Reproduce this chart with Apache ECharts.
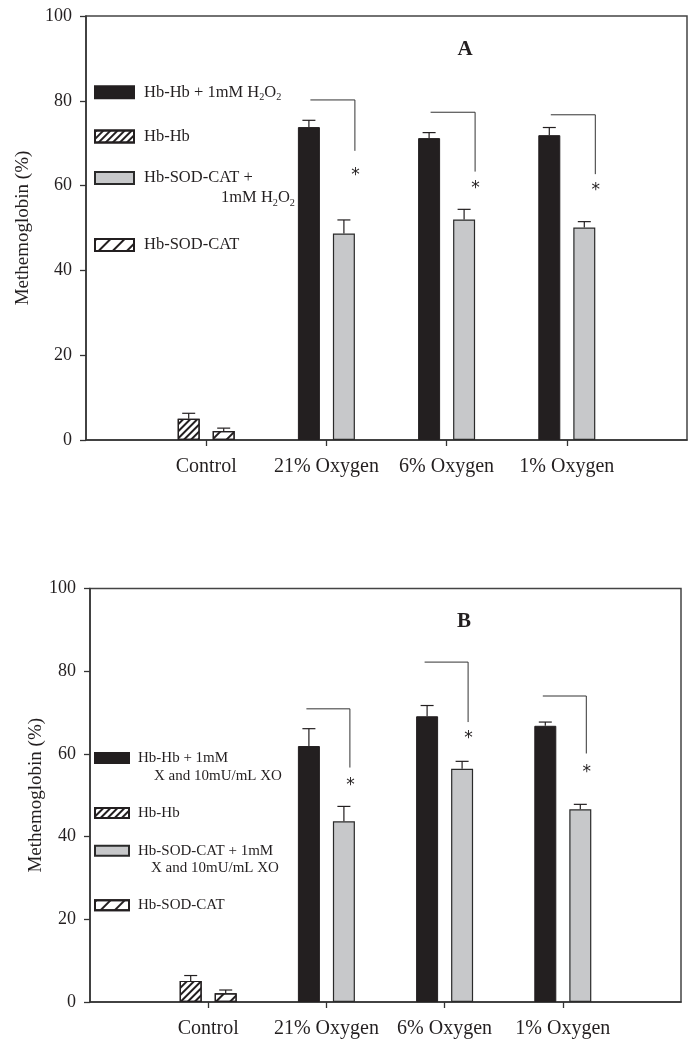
<!DOCTYPE html>
<html><head><meta charset="utf-8">
<script src="https://cdn.jsdelivr.net/npm/echarts@6/dist/echarts.min.js"></script>
<style>html,body{margin:0;padding:0;background:#fff}#c{width:697px;height:1049px}</style>
</head><body><div id="c"></div>
<script>
// ---------- data ----------
const categories = ['Control', '21% Oxygen', '6% Oxygen', '1% Oxygen'];
const yTicks = { min: 0, max: 100, step: 20 };
const yTitle = 'Methemoglobin (%)';

// Panel A (H2O2)
const A_hbhbH2O2     = [null, 73.8, 71.2, 71.9];
const A_hbhbH2O2Err  = [null, 1.6, 1.3, 1.8];
const A_hbhb         = [5.0, null, null, null];
const A_hbhbErr      = [1.3, null, null, null];
const A_sodH2O2      = [null, 48.7, 52.0, 50.1];
const A_sodH2O2Err   = [null, 3.2, 2.4, 1.4];
const A_sod          = [2.1, null, null, null];
const A_sodErr       = [0.7, null, null, null];
const A_bracketTop    = [null, 80.2, 77.3, 76.7];
const A_bracketBottom = [null, 68.2, 63.3, 62.7];
const A_starLevel     = [null, 63.5, 60.5, 59.9];

// Panel B (X / XO)
const B_hbhbXO       = [null, 61.9, 69.1, 66.8];
const B_hbhbXOErr    = [null, 4.2, 2.6, 0.9];
const B_hbhb         = [5.1, null, null, null];
const B_hbhbErr      = [1.3, null, null, null];
const B_sodXO        = [null, 43.7, 56.4, 46.6];
const B_sodXOErr     = [null, 3.6, 1.8, 1.2];
const B_sod          = [2.1, null, null, null];
const B_sodErr       = [0.8, null, null, null];
const B_bracketTop    = [null, 70.9, 82.2, 74.0];
const B_bracketBottom = [null, 56.7, 67.7, 60.1];
const B_starLevel     = [null, 53.6, 64.9, 56.8];

// ---------- style ----------
const FONT = '"Liberation Serif", "Times New Roman", serif';
const INK = '#231f20';
const BW = 22, GAP = 13, OFF = (BW + GAP) / 2;
const denseDecal = { symbol: 'rect', symbolSize: 1, color: INK, dashArrayX: [1, 0], dashArrayY: [1.3, 2.6], rotation: -Math.PI / 4 };
const sparseDecal = { symbol: 'rect', symbolSize: 1, color: INK, dashArrayX: [1, 0], dashArrayY: [1.3, 7.5], rotation: -Math.PI / 4 };

const N_BLACK_A = 'Hb-Hb + 1mM H2O2';
const N_GRAY_A = 'Hb-SOD-CAT + 1mM H2O2';
const N_BLACK_B = 'Hb-Hb + 1mM X and 10mU/mL XO';
const N_GRAY_B = 'Hb-SOD-CAT + 1mM X and 10mU/mL XO';
const N_HB = 'Hb-Hb';
const N_SOD = 'Hb-SOD-CAT';

const axisData = [''].concat(categories, ['']);
const pad = a => [null].concat(a, [null]);

function errData(vals, errs, side) {
  const out = [];
  vals.forEach((v, i) => { if (v != null) out.push([i + 1, v, errs[i], side]); });
  return out;
}
function bracketData(top, bot, star) {
  const out = [];
  top.forEach((t, i) => { if (t != null) out.push([i + 1, t, bot[i], star[i]]); });
  return out;
}

function panelSeries(gi, d, br) {
  const base = { type: 'bar', xAxisIndex: gi, yAxisIndex: gi, barWidth: BW, barGap: (GAP / BW * 100) + '%', z: 2 };
  const s = [
    Object.assign({}, base, { name: d.nBlack, stack: 'L' + gi, data: pad(d.black),
      itemStyle: { color: INK, borderColor: INK, borderWidth: 1 } }),
    Object.assign({}, base, { name: N_HB, stack: 'L' + gi, data: pad(d.hb),
      itemStyle: { color: '#fff', borderColor: INK, borderWidth: 1.2, decal: denseDecal } }),
    Object.assign({}, base, { name: d.nGray, stack: 'R' + gi, data: pad(d.gray),
      itemStyle: { color: '#c7c8ca', borderColor: '#2a2a2a', borderWidth: 1.2 } }),
    Object.assign({}, base, { name: N_SOD, stack: 'R' + gi, data: pad(d.sod),
      itemStyle: { color: '#fff', borderColor: INK, borderWidth: 1.2, decal: sparseDecal } })
  ];
  const errs = [].concat(
    errData(d.black, d.blackErr, -1), errData(d.hb, d.hbErr, -1),
    errData(d.gray, d.grayErr, 1), errData(d.sod, d.sodErr, 1));
  s.push({
    type: 'custom', xAxisIndex: gi, yAxisIndex: gi, z: 3, silent: true,
    data: errs,
    renderItem: (params, api) => {
      const c = api.coord([api.value(0), api.value(1)]);
      const t = api.coord([api.value(0), api.value(1) + api.value(2)]);
      const x = c[0] + api.value(3) * OFF;
      const st = { stroke: INK, lineWidth: 1.2 };
      return { type: 'group', children: [
        { type: 'line', shape: { x1: x, y1: c[1], x2: x, y2: t[1] }, style: st },
        { type: 'line', shape: { x1: x - 6.5, y1: t[1], x2: x + 6.5, y2: t[1] }, style: st }
      ] };
    }
  });
  s.push({
    type: 'custom', xAxisIndex: gi, yAxisIndex: gi, z: 3, silent: true,
    data: bracketData(d.bTop, d.bBot, d.star),
    renderItem: (params, api) => {
      const top = api.coord([api.value(0), api.value(1)]);
      const bot = api.coord([api.value(0), api.value(2)]);
      const st = api.coord([api.value(0), api.value(3)]);
      const xl = top[0] + br.l, xr = top[0] + br.r;
      return { type: 'group', children: [
        { type: 'polyline', shape: { points: [[xl, top[1]], [xr, top[1]], [xr, bot[1]]] },
          style: { stroke: '#333', lineWidth: 1, fill: null } },
        { type: 'text', x: xr + 0.5, y: st[1] + 5,
          style: { text: '*', fontFamily: '"DejaVu Sans", sans-serif', fontSize: 17, fill: INK, align: 'center', verticalAlign: 'middle' } }
      ] };
    }
  });
  return s;
}

function axes(gi, nameGap) {
  const line = { color: '#333', width: 1.5 };
  return {
    x: { type: 'category', gridIndex: gi, data: axisData, boundaryGap: false,
      axisLine: { lineStyle: line },
      axisTick: { length: 6, interval: (i, v) => v !== '', lineStyle: { color: '#333', width: 1.3 } },
      axisLabel: { interval: 0, fontFamily: FONT, fontSize: 20, color: INK, margin: 17 },
      splitLine: { show: false } },
    y: { type: 'value', gridIndex: gi, min: yTicks.min, max: yTicks.max, interval: yTicks.step,
      name: yTitle, nameLocation: 'middle', nameGap: nameGap, nameMoveOverlap: false,
      nameTextStyle: { fontFamily: FONT, fontSize: 19, color: INK },
      axisLine: { show: true, lineStyle: line },
      axisTick: { show: true, length: 6, lineStyle: { color: '#333', width: 1.3 } },
      axisLabel: { fontFamily: FONT, fontSize: 18, color: INK, margin: 14 },
      splitLine: { show: false } }
  };
}

function legendItem(name, lines, cfg, cy) {
  const L = cfg.L;
  const two = lines.length > 1;
  const fmt = () => lines.map((ln, k) => (k > 0 ? '{ind|}' : '') + ln).join('\n');
  return {
    data: [name], left: cfg.left, top: cy - (two ? 1.5 * L : 0.5 * L), orient: 'vertical',
    padding: 0, icon: 'rect', itemWidth: cfg.iw, itemHeight: cfg.ih, itemGap: 0,
    selectedMode: false, formatter: fmt,
    textStyle: { fontFamily: FONT, fontSize: cfg.fs, color: INK, lineHeight: L,
      padding: two ? [L, 0, 0, cfg.gapFix] : [0, 0, 0, cfg.gapFix],
      rich: {
        t: { fontFamily: FONT, fontSize: cfg.fs, color: INK, lineHeight: L },
        s: { fontFamily: FONT, fontSize: cfg.fs * 0.62, color: INK, lineHeight: L - 8, verticalAlign: 'bottom' },
        ind: { width: cfg.indent || 0, lineHeight: L }
      } }
  };
}

const dA = { nBlack: N_BLACK_A, nGray: N_GRAY_A,
  black: A_hbhbH2O2, blackErr: A_hbhbH2O2Err, hb: A_hbhb, hbErr: A_hbhbErr,
  gray: A_sodH2O2, grayErr: A_sodH2O2Err, sod: A_sod, sodErr: A_sodErr,
  bTop: A_bracketTop, bBot: A_bracketBottom, star: A_starLevel };
const dB = { nBlack: N_BLACK_B, nGray: N_GRAY_B,
  black: B_hbhbXO, blackErr: B_hbhbXOErr, hb: B_hbhb, hbErr: B_hbhbErr,
  gray: B_sodXO, grayErr: B_sodXOErr, sod: B_sod, sodErr: B_sodErr,
  bTop: B_bracketTop, bBot: B_bracketBottom, star: B_starLevel };

const axA = axes(0, 53), axB = axes(1, 44);
const cfgA = { left: 94, iw: 39, ih: 12, fs: 16.5, L: 20, gapFix: 5 };
const cfgB = { left: 94, iw: 34, ih: 10, fs: 15, L: 17.7, gapFix: 4 };

const H2O2 = '{t|1mM H}{s|2}{t|O}{s|2}';
const legends = [
  legendItem(N_BLACK_A, ['{t|Hb-Hb + }' + H2O2], cfgA, 92.3),
  legendItem(N_HB, ['{t|Hb-Hb}'], cfgA, 136.5),
  legendItem(N_GRAY_A, ['{t|Hb-SOD-CAT +}', H2O2], Object.assign({}, cfgA, { indent: 77 }), 178),
  legendItem(N_SOD, ['{t|Hb-SOD-CAT}'], cfgA, 245),
  legendItem(N_BLACK_B, ['{t|Hb-Hb + 1mM}', '{t|X and 10mU/mL XO}'], Object.assign({}, cfgB, { indent: 16 }), 758),
  legendItem(N_HB, ['{t|Hb-Hb}'], cfgB, 813),
  legendItem(N_GRAY_B, ['{t|Hb-SOD-CAT + 1mM}', '{t|X and 10mU/mL XO}'], Object.assign({}, cfgB, { indent: 13 }), 850.7),
  legendItem(N_SOD, ['{t|Hb-SOD-CAT}'], cfgB, 905.3)
];

const option = {
  animation: false,
  backgroundColor: '#fff',
  grid: [
    { left: 86, right: 10, top: 16, bottom: 609, show: true, borderColor: '#444', borderWidth: 1.5, backgroundColor: 'transparent' },
    { left: 90, right: 16, top: 588.5, bottom: 47, show: true, borderColor: '#444', borderWidth: 1.5, backgroundColor: 'transparent' }
  ],
  xAxis: [axA.x, axB.x],
  yAxis: [axA.y, axB.y],
  legend: legends,
  graphic: [
    { type: 'text', x: 465, y: 50, style: { text: 'A', fontFamily: FONT, fontWeight: 'bold', fontSize: 21, fill: INK, align: 'center', verticalAlign: 'middle' } },
    { type: 'text', x: 464, y: 622, style: { text: 'B', fontFamily: FONT, fontWeight: 'bold', fontSize: 21, fill: INK, align: 'center', verticalAlign: 'middle' } }
  ],
  series: panelSeries(0, dA, { l: -16, r: 28.5 }).concat(panelSeries(1, dB, { l: -20, r: 23.5 }))
};

const chart = echarts.init(document.getElementById('c'), null, { renderer: 'canvas' });
chart.setOption(option);
</script></body></html>
